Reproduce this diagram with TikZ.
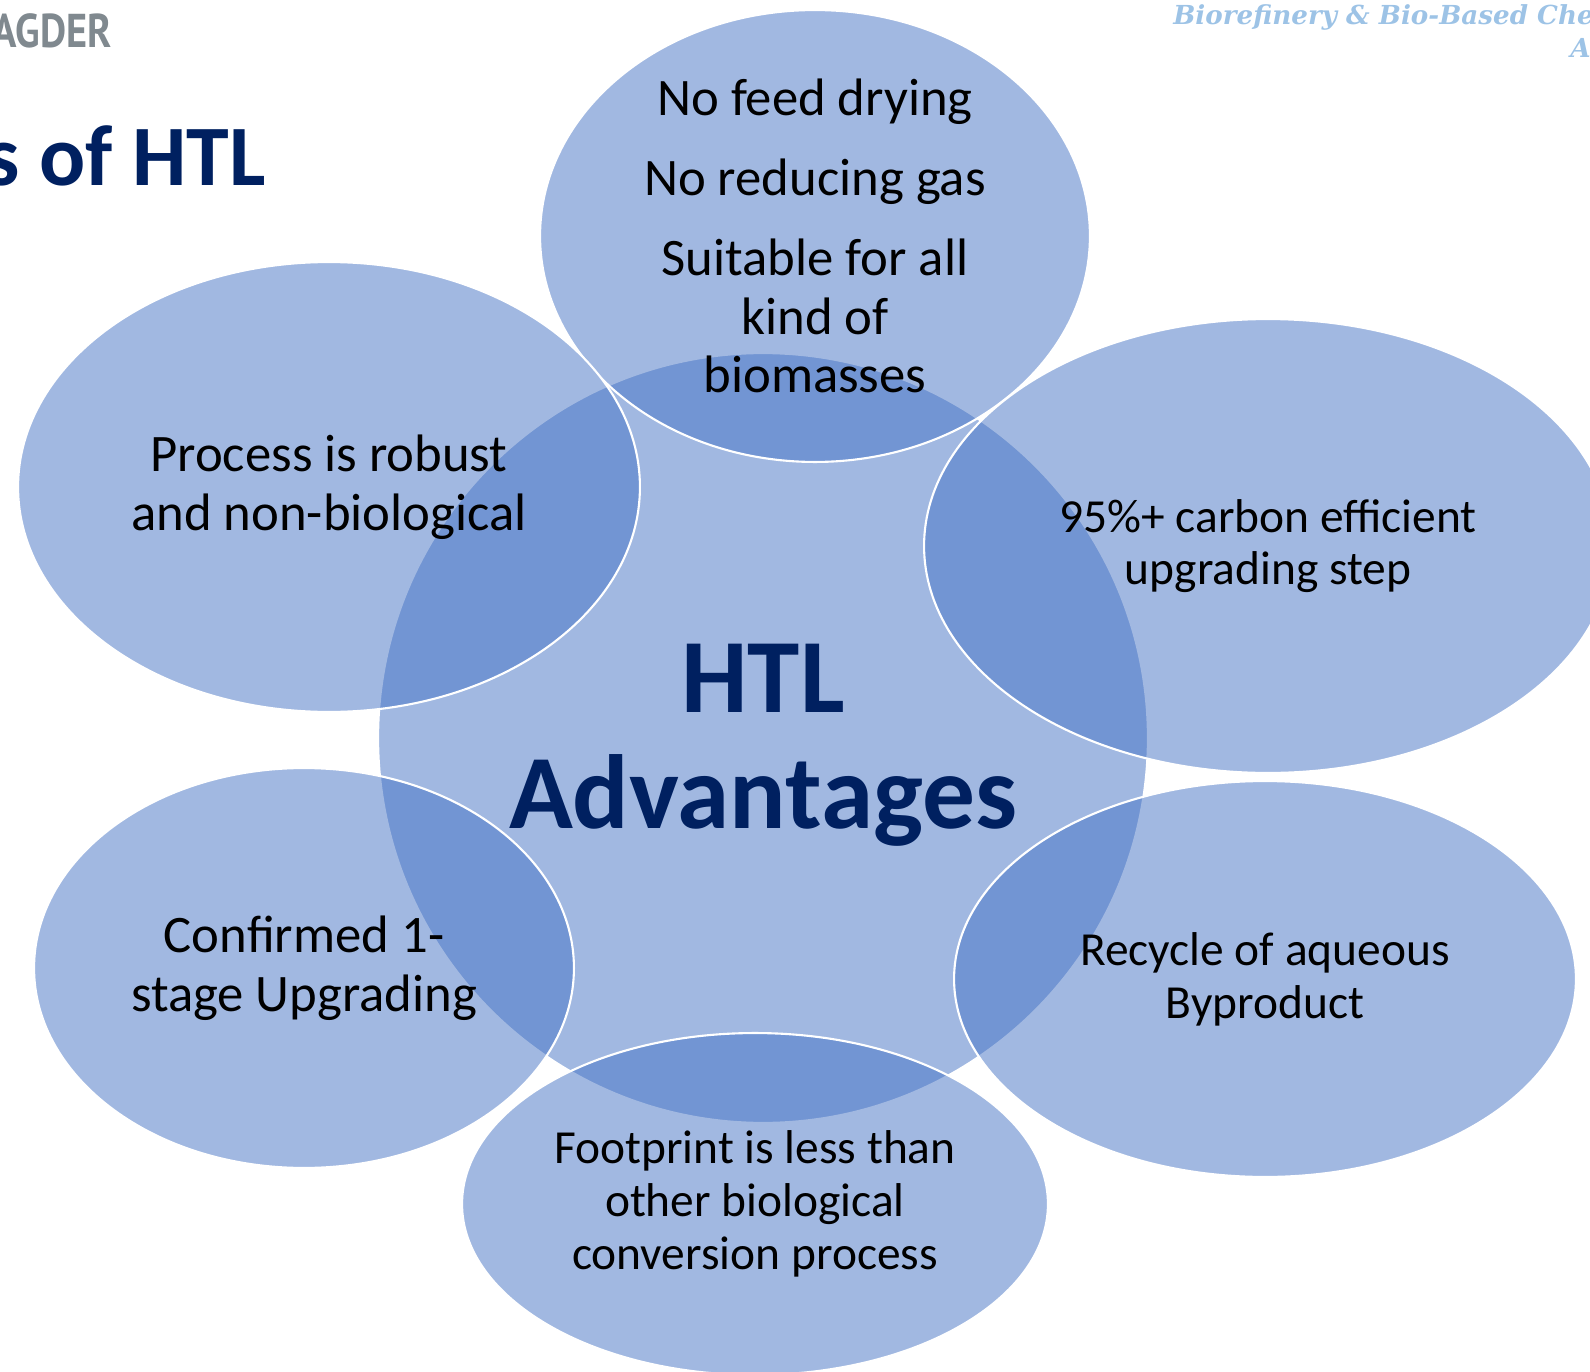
\documentclass[tikz,border=0pt]{standalone}
\usepackage{fontspec}
\setmainfont{Carlito}
\newfontfamily\agderfont[FakeStretch=0.85]{PT Sans}
\newfontfamily\bioserif{DejaVu Serif}
\usetikzlibrary{shapes.geometric}
\definecolor{htlblue}{HTML}{4472C4}
\definecolor{htlnavy}{HTML}{002060}
\definecolor{agdergray}{HTML}{80898F}
\definecolor{biolight}{HTML}{9DC3E6}

\begin{document}
\begin{tikzpicture}[x=0.02cm,y=-0.02cm,
    bubble/.style={ellipse,draw=white,line width=1.2pt,fill=htlblue,fill opacity=0.5,text opacity=1,
        inner sep=0pt,align=center,text=black},
    bigtext/.style={font=\fontsize{30}{33.5}\selectfont},
    smalltext/.style={font=\fontsize{27}{30}\selectfont}]
            \path[use as bounding box] (0,0) rectangle (1590,1372);
            \clip (0,0) rectangle (1590,1372);

            % header
            \node[anchor=base east,inner sep=0pt,text=agdergray,font=\agderfont\bfseries\fontsize{27}{30}\selectfont] (agder) at (112,48) {AGDER};
            \node[anchor=base east,inner sep=0pt,text=htlnavy,font=\bfseries\fontsize{49}{54}\selectfont] (title) at (266,186) {s of HTL};
            \node[anchor=base west,inner sep=0pt,text=biolight,font=\bioserif\bfseries\itshape\fontsize{14.9}{18}\selectfont] (bio) at (1173,25) {Biorefinery \& Bio-Based Che};
            \node[anchor=base west,inner sep=0pt,text=biolight,font=\bioserif\bfseries\itshape\fontsize{14.9}{18}\selectfont] (bioA) at (1570,58) {A};

            % centre and the six bubbles
            \node[bubble,minimum width=15.4cm,minimum height=15.4cm] (htl) at (763,738) {};
            \node[align=center,inner sep=0pt,text=htlnavy,font=\bfseries\fontsize{60}{66}\selectfont] (htllabel) at (763,745) {HTL\\Advantages};
            \node[bubble,bigtext,minimum width=11cm,minimum height=9.04cm] (drying) at (815,236) {No feed drying\\[12pt]No reducing gas\\[12pt]Suitable for all\\kind of\\biomasses};
            \node[bubble,smalltext,minimum width=13.76cm,minimum height=9.08cm] (carbon) at (1268,546) {95\%+ carbon efficient\\upgrading step};
            \node[bubble,smalltext,minimum width=12.44cm,minimum height=7.92cm] (recycle) at (1265,979) {Recycle of aqueous\\Byproduct};
            \node[bubble,smalltext,minimum width=11.72cm,minimum height=6.84cm] (footprint) at (755,1204) {Footprint is less than\\other biological\\conversion process};
            \node[bubble,bigtext,minimum width=10.8cm,minimum height=8cm] (onestage) at (304,968) {Confirmed 1-\\stage Upgrading};
            \node[bubble,bigtext,minimum width=12.44cm,minimum height=9cm] (robust) at (329,487) {Process is robust\\and non-biological};
        \end{tikzpicture}
\end{document}
